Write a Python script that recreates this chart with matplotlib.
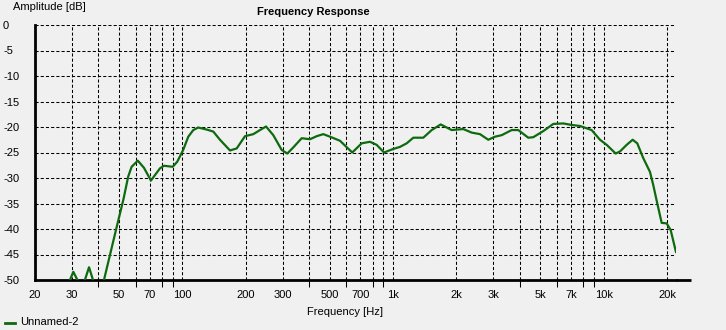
import matplotlib
matplotlib.use("Agg")
import matplotlib.pyplot as plt
from matplotlib.ticker import FixedLocator, NullFormatter

plt.rcParams['font.family'] = ['Liberation Sans', 'DejaVu Sans']

# Frequency response data (Hz, dB)
freq_hz = [27.8, 29.3, 30.4, 31.8, 33.1, 34.5, 36.1, 37.7, 39.5, 42.5,
           48.9, 52.5, 55.4, 57.5, 61.5, 65.8, 71.0, 78.4, 81.9, 90.1,
           94.7, 101, 106.8, 112.8, 119, 130.6, 140.4, 151, 168.5, 181.3,
           198.5, 217.4, 233.8, 249.8, 270.4, 296.4, 315.2, 336.5, 368.8, 403.9,
           434.6, 467, 502.6, 560.6, 641, 710.6, 778, 837, 907, 1004,
           1080, 1162, 1249, 1393, 1527, 1685, 1900, 2156, 2364, 2588,
           2834, 3050, 3282, 3660, 3934, 4389, 4634, 5171, 5768, 6434,
           7050, 7722, 8771, 9606, 10338, 11404, 11954, 12860, 13732, 14440,
           15418, 16592, 17202, 17972, 18856, 19914, 20800, 22040]
amp_db = [-52.0, -50.0, -48.4, -50.0, -52.0, -50.0, -47.5, -50.0, -53.0, -50.0,
          -39.5, -34.3, -29.7, -27.8, -26.6, -28.0, -30.5, -28.1, -27.6, -27.8,
          -26.8, -24.5, -21.9, -20.6, -20.1, -20.5, -20.9, -22.5, -24.6, -24.2,
          -21.8, -21.4, -20.6, -19.9, -21.6, -24.5, -25.2, -24.0, -22.2, -22.4,
          -21.8, -21.4, -21.9, -22.7, -25.0, -23.2, -22.9, -23.5, -25.0, -24.3,
          -23.9, -23.2, -22.1, -22.1, -20.6, -19.5, -20.6, -20.4, -21.1, -21.4,
          -22.5, -21.9, -21.6, -20.6, -20.6, -22.1, -22.0, -20.8, -19.4, -19.3,
          -19.6, -19.8, -20.6, -22.5, -23.5, -25.2, -24.8, -23.5, -22.5, -23.2,
          -26.1, -28.8, -31.4, -35.0, -38.8, -38.9, -40.2, -44.5]

major_ticks = [20, 30, 50, 70, 100, 200, 300, 500, 700, 1000, 2000, 3000,
               5000, 7000, 10000, 20000]
major_labels = ['20', '30', '50', '70', '100', '200', '300', '500', '700', '1k',
                '2k', '3k', '5k', '7k', '10k', '20k']
minor_ticks = [40, 60, 80, 90, 400, 600, 800, 900, 4000, 6000, 8000, 9000]
y_ticks = [0, -5, -10, -15, -20, -25, -30, -35, -40, -45, -50]
series_name = 'Unnamed-2'

W, H = 726, 330
bg = '#f0f0f0'
green = '#0e6a0e'

fig = plt.figure(figsize=(W / 100, H / 100), dpi=100, facecolor=bg)
L, R, T, B = 35, 676, 25, 280
ax = fig.add_axes([L / W, (H - B) / H, (R - L) / W, (B - T) / H])
ax.set_facecolor(bg)

ax.plot(freq_hz, amp_db, color=green, lw=1.6, zorder=3, solid_joinstyle='round')

ax.set_xscale('log')
ax.set_xlim(20, 22050)
ax.set_ylim(-50, 0)

ax.xaxis.set_major_locator(FixedLocator(major_ticks))
ax.set_xticklabels(major_labels)
ax.xaxis.set_minor_locator(FixedLocator(minor_ticks))
ax.xaxis.set_minor_formatter(NullFormatter())
ax.set_yticks(y_ticks)
ax.set_yticklabels([str(v) for v in y_ticks])

grid_kw = dict(color='black', lw=0.75, linestyle=(0, (3, 2)))
for x in major_ticks[1:] + minor_ticks:
    ax.axvline(x, zorder=1, **grid_kw)
for y in y_ticks[:-1]:
    ax.axhline(y, zorder=1, **grid_kw)

for s in ['top', 'right']:
    ax.spines[s].set_visible(False)
ax.spines['left'].set_linewidth(2.0)
ax.spines['bottom'].set_linewidth(2.0)
# extended bottom axis line
ax.plot([1.0, (691 - L) / (R - L)], [0, 0], transform=ax.transAxes,
        color='black', lw=2.0, clip_on=False, solid_capstyle='butt')

ax.tick_params(axis='x', which='major', length=0, pad=7, labelsize=8)
ax.tick_params(axis='x', which='minor', length=5, width=0.75, direction='out')
ax.tick_params(axis='y', length=0, pad=23, labelsize=8)
for lab in ax.get_yticklabels():
    lab.set_horizontalalignment('left')

fig.text(13 / W, 1 - 7 / H, 'Amplitude [dB]', fontsize=8, ha='left', va='center')
fig.text(313 / W, 1 - 12 / H, 'Frequency Response', fontsize=8, fontweight='bold',
         ha='center', va='center')
fig.text(345 / W, 1 - 312 / H, 'Frequency [Hz]', fontsize=8, ha='center', va='center')

# legend
fig.add_artist(plt.Line2D([5 / W, 15 / W], [1 - 322.5 / H, 1 - 322.5 / H],
                          color=green, lw=2.0, transform=fig.transFigure))
fig.text(20 / W, 1 - 322 / H, series_name, fontsize=8, ha='left', va='center')

fig.savefig('out.png', dpi=100, facecolor=bg)
